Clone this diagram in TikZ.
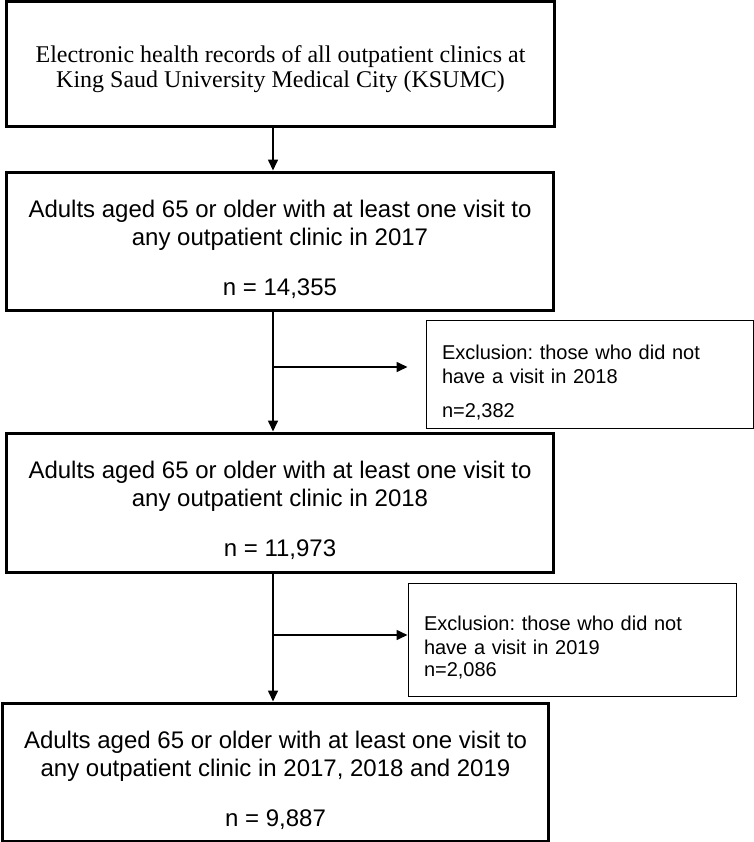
\documentclass[tikz,border=0pt]{standalone}
\usepackage{fontspec}
\setmainfont{Liberation Serif}
\setsansfont{Liberation Sans}
\usetikzlibrary{calc, positioning, arrows.meta}
\frenchspacing
% invisible strut that pushes a text block down inside its box
\newcommand{\dropby}[1]{\rule{0pt}{#1}}
\tikzset{
  % Set arrowhead
  >={Triangle[length=11bp, width=10bp]},
  % Main stage box
  stagebox/.style={draw, line width=3bp, shape=rectangle, align=center,
    inner sep=0pt, font=\sffamily\fontsize{24bp}{28bp}\selectfont},
  % Source box
  srcbox/.style={stagebox, font=\rmfamily\fontsize{24bp}{24.5bp}\selectfont},
  % Exclusion box
  exclbox/.style={draw, line width=1bp, shape=rectangle, align=left,
    inner xsep=16bp, inner ysep=0pt,
    font=\sffamily\fontsize{20bp}{24bp}\selectfont},
  % Arrows
  flow/.style={->, line width=1.6bp},
}

\begin{document}
\begin{tikzpicture}[x=1bp, y=-1bp]
  \useasboundingbox (0,0) rectangle (754,842);

  \node[srcbox, minimum width=547bp, minimum height=124bp] (src) at (280.5,64)
    {\dropby{27bp}Electronic health records of all outpatient clinics at\\
     King Saud University Medical City (KSUMC)};
  \node[stagebox, minimum width=546bp, minimum height=138bp] (y17) at (280,241)
    {\dropby{35bp}Adults aged 65 or older with at least one visit to\\
     any outpatient clinic in 2017\\[22bp]
     n = 14,355};
  \node[exclbox, text width=295bp, minimum height=108bp] (ex18) at (589.5,374)
    {\dropby{32bp}Exclusion: those who did not\\
     have a visit in 2018\\[10bp]
     n=2,382};
  \node[stagebox, minimum width=546bp, minimum height=139bp] (y18) at (280,502.5)
    {\dropby{34bp}Adults aged 65 or older with at least one visit to\\
     any outpatient clinic in 2018\\[22bp]
     n = 11,973};
  \node[exclbox, text width=296bp, minimum height=113bp] (ex19) at (572,639.5)
    {\dropby{30bp}Exclusion: those who did not\\
     have a visit in 2019\\[-2bp]
     n=2,086};
  \node[stagebox, minimum width=545bp, minimum height=138bp] (all) at (275.5,772)
    {\dropby{35bp}Adults aged 65 or older with at least one visit to\\
     any outpatient clinic in 2017, 2018 and 2019\\[22bp]
     n = 9,887};

  % spine of the flow chart and branch points
  \coordinate (spine) at (273,0);
  \coordinate (j1) at (273,367);
  \coordinate (j2) at (273,635);

  \draw[flow] (src.south -| spine) -- (y17.north -| spine);
  \draw[flow] (y17.south -| spine) -- (y18.north -| spine);
  \draw[flow] (y18.south -| spine) -- (all.north -| spine);
  \draw[flow, shorten >=18bp] (j1) -- (j1 -| ex18.west);
  \draw[flow] (j2) -- (j2 -| ex19.west);
\end{tikzpicture}
\end{document}
